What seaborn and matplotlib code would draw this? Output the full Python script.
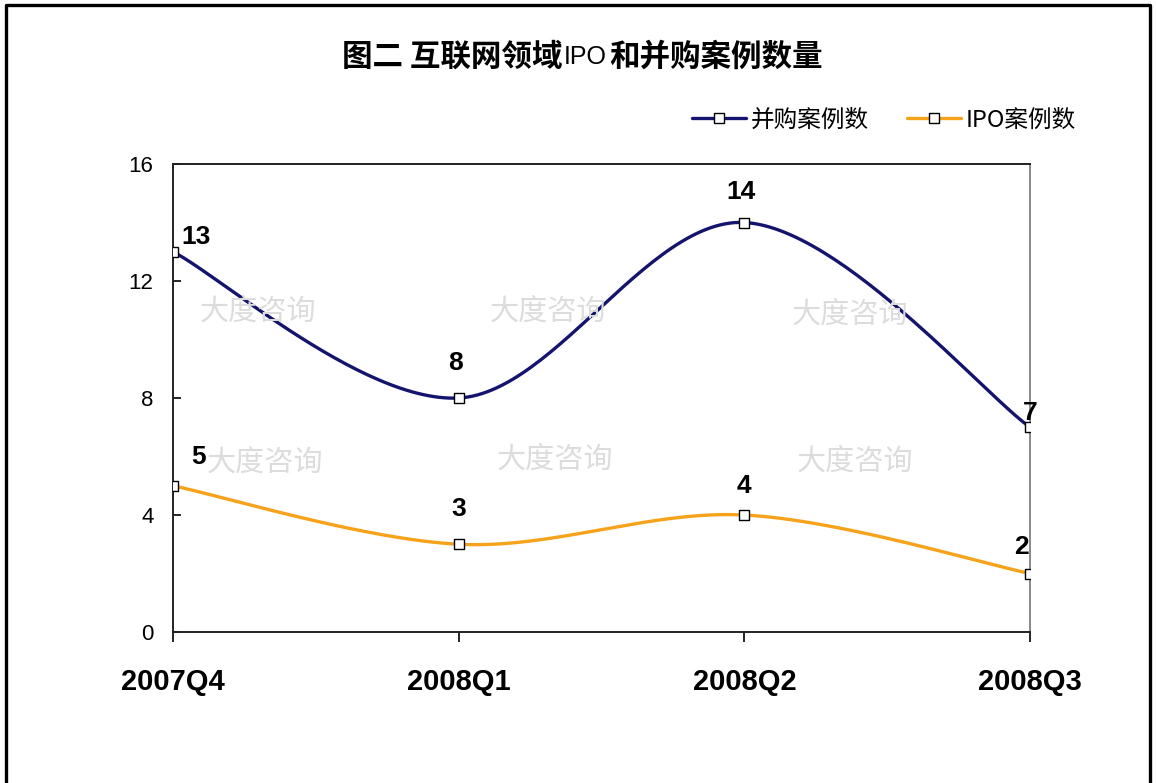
import numpy as np
import pandas as pd
import seaborn as sns
import matplotlib
matplotlib.use("Agg")
import matplotlib.pyplot as plt
from matplotlib.lines import Line2D

# Quarterly counts
quarters = ["2007Q4", "2008Q1", "2008Q2", "2008Q3"]
ma_counts = [13, 8, 14, 7]     # 并购案例数
ipo_counts = [5, 3, 4, 2]      # IPO案例数
series_names = ["并购案例数", "IPO案例数"]
y_ticks = [0, 4, 8, 12, 16]

NAVY = "#14146e"
ORANGE = "#f7a21b"

sns.set_theme(style="white")
plt.rcParams["font.family"] = ["Liberation Sans", "Noto Sans CJK SC", "DejaVu Sans"]
plt.rcParams["text.color"] = "black"
plt.rcParams["xtick.color"] = "black"
plt.rcParams["ytick.color"] = "black"
plt.rcParams["xtick.labelcolor"] = "black"
plt.rcParams["ytick.labelcolor"] = "black"
CJK = ["Noto Sans CJK SC", "Liberation Sans", "DejaVu Sans"]


def smooth(xv, yv, n=60):
    """Piecewise cubic Bezier through the points (Catmull-Rom style tangents)."""
    P = np.column_stack([xv, yv]).astype(float)
    ext = np.vstack([P[0], P, P[-1]])
    out = []
    t = np.linspace(0, 1, n)[:, None]
    for i in range(len(P) - 1):
        p0, p3 = P[i], P[i + 1]
        c1 = p0 + (ext[i + 2] - ext[i]) / 6.0
        c2 = p3 - (ext[i + 3] - ext[i + 1]) / 6.0
        seg = ((1 - t) ** 3) * p0 + 3 * ((1 - t) ** 2) * t * c1 + 3 * (1 - t) * t ** 2 * c2 + t ** 3 * p3
        out.append(seg if i == 0 else seg[1:])
    S = np.vstack(out)
    return S[:, 0], S[:, 1]


fig = plt.figure(figsize=(11.56, 7.83), dpi=100)
ax = fig.add_axes([173 / 1156, 1 - 632 / 783, (1030 - 173) / 1156, (632 - 164) / 783])
ax.set_facecolor("white")

xpos = np.arange(len(quarters))

# faint watermark text behind the data
for (wx, wy) in [(258, 312), (548, 312), (850, 315), (265, 463), (555, 460), (855, 462)]:
    fig.text(wx / 1156, 1 - wy / 783, "大度咨询", family=CJK, fontsize=21,
             color="#dcdcdc", ha="center", va="center", zorder=0)

for vals, color in [(ma_counts, NAVY), (ipo_counts, ORANGE)]:
    sx, sy = smooth(xpos, vals)
    sns.lineplot(x=sx, y=sy, sort=False, ax=ax, color=color, linewidth=2.4,
                 estimator=None, zorder=3)
    sns.scatterplot(x=xpos, y=vals, ax=ax, marker="s", s=55, facecolor="white",
                    edgecolor="black", linewidth=1.0, zorder=4)

# value labels
ma_off = [(0.08, 0.5), (-0.01, 1.2), (-0.01, 1.05), (0.0, 0.5)]
ipo_off = [(0.09, 1.0), (0.0, 1.2), (0.0, 1.0), (-0.03, 0.9)]
for vals, offs in [(ma_counts, ma_off), (ipo_counts, ipo_off)]:
    for xi, v, (dx, dy) in zip(xpos, vals, offs):
        ax.text(xi + dx, v + dy, str(v), ha="center", va="center",
                fontsize=19, fontweight="bold", color="black", zorder=5)

ax.set_xlim(0, 3)
ax.set_ylim(0, 16)
ax.set_yticks(y_ticks)
ax.set_yticklabels([str(t) for t in y_ticks], fontsize=16)
ax.set_xticks(xpos)
ax.set_xticklabels(quarters, fontsize=21, fontweight="bold")
ax.tick_params(axis="y", direction="in", length=6, width=1.2, color="black", pad=14, left=True)
ax.tick_params(axis="x", direction="out", length=7, width=1.2, color="black", pad=19, bottom=True)
ax.set_xlabel("")
ax.set_ylabel("")
ax.grid(False)
for side in ["left", "bottom", "top"]:
    ax.spines[side].set_color("#222222")
    ax.spines[side].set_linewidth(1.4)
ax.spines["right"].set_color("#8a8a8a")
ax.spines["right"].set_linewidth(1.4)

# legend
handles = [
    Line2D([], [], color=NAVY, linewidth=2.4, marker="s", markersize=7,
           markerfacecolor="white", markeredgecolor="black", markeredgewidth=1.0),
    Line2D([], [], color=ORANGE, linewidth=2.4, marker="s", markersize=7,
           markerfacecolor="white", markeredgecolor="black", markeredgewidth=1.0),
]
fig.legend(handles, series_names, loc="center right", ncol=2, frameon=False,
           bbox_to_anchor=(1088 / 1156, 1 - 120 / 783), prop={"family": CJK, "size": 17},
           handlelength=2.3, handletextpad=0.2, columnspacing=1.6, borderpad=0)

# title: bold CJK with a thin "IPO"
parts = [("图二 互联网领域", CJK, "bold", 22),
         ("IPO", ["Liberation Sans"], "normal", 18),
         ("和并购案例数量", CJK, "bold", 22)]
renderer = fig.canvas.get_renderer()
texts = []
for s, fam, wt, sz in parts:
    t = fig.text(0, 1 - 57 / 783, s, family=fam, fontweight=wt, fontsize=sz,
                 ha="left", va="center", color="black")
    texts.append(t)
widths = [t.get_window_extent(renderer).width for t in texts]
gap = 2
total = sum(widths) + gap * (len(widths) - 1)
x0 = 582 - total / 2
for t, w in zip(texts, widths):
    t.set_x(x0 / 1156)
    x0 += w + gap

# outer frame of the figure (open at the bottom)
fig.add_artist(Line2D([6 / 1156, 6 / 1156, 1150 / 1156, 1150 / 1156],
                      [0, 1 - 5 / 783, 1 - 5 / 783, 0],
                      transform=fig.transFigure, color="black", linewidth=2.4))

fig.savefig("out.png", dpi=100, facecolor="white")
